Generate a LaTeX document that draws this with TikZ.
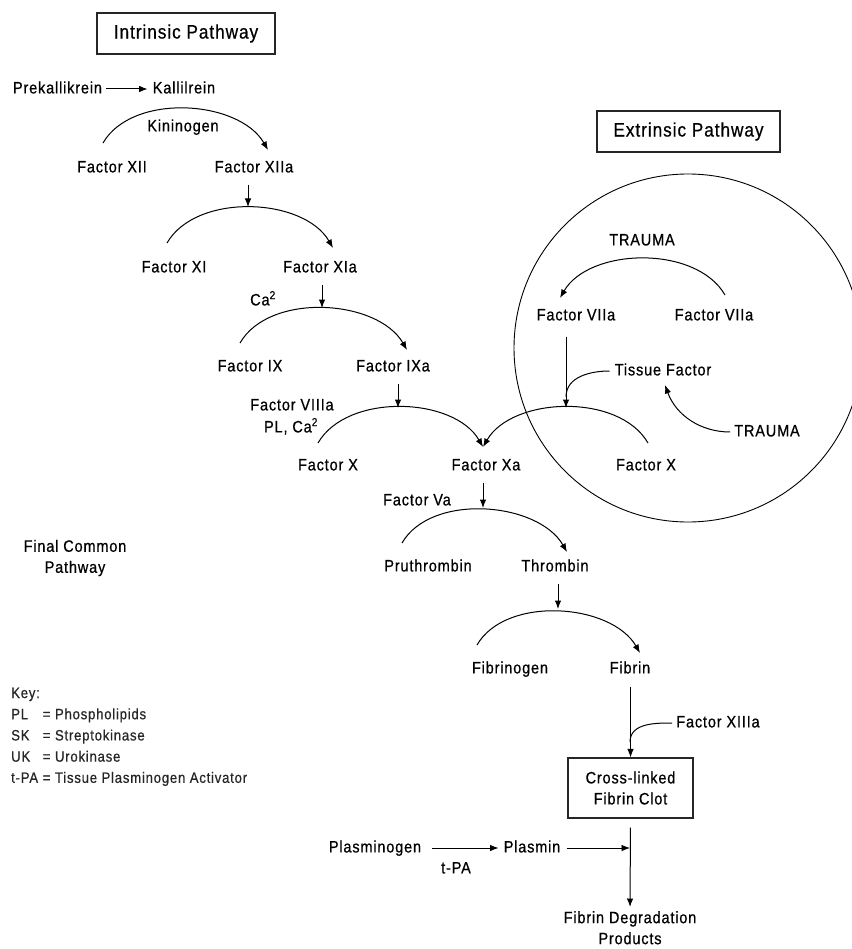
\documentclass[tikz,border=0pt]{standalone}
\usepackage{fontspec}
\setmainfont[LetterSpace=5,FakeStretch=0.88,FakeBold=0.6]{Liberation Sans}
\usetikzlibrary{arrows.meta,positioning}
\tikzset{
  lbl/.style={inner sep=1pt,text height=11.8pt,text depth=3pt,font=\fontsize{16.5}{19}\selectfont},
  twoline/.style={inner sep=1pt,align=center,font=\fontsize{16.5}{21}\selectfont},
  pathbox/.style={draw=black!85,line width=1.1pt,inner sep=0pt,minimum height=41,font=\fontsize{19.5}{22}\selectfont},
  link/.style={line width=1pt},
  react/.style={line width=1pt,-{Latex[length=8.5pt,width=6.5pt]}},
  feed/.style={react,shorten <=8pt},
  turn/.style={out=60,in=120,looseness=0.9},
}

\begin{document}
\begin{tikzpicture}[x=1pt,y=1pt]
\useasboundingbox (0,0) rectangle (851,-949);

% pathway headings
\node[pathbox,minimum width=178] (intr) at (186,-33.5) {Intrinsic Pathway};
\node[pathbox,minimum width=183] (extr) at (688.5,-131.5) {Extrinsic Pathway};

% intrinsic pathway
\node[lbl] (prek) at (57.5,-89) {Prekallikrein};
\node[lbl] (kall) at (184,-89) {Kallilrein};
\draw[react,shorten <=3pt,shorten >=4pt] (prek.east) -- (kall.west);
\node[lbl] (kin) at (183,-127) {Kininogen};
\node[lbl] (xii) at (112,-168) {Factor XII};
\node[lbl] (xiia) at (254,-168) {Factor XIIa};
\node[lbl] (xi) at (174,-268) {Factor XI};
\node[lbl] (xia) at (320,-268) {Factor XIa};
\node[lbl] (ca1) at (263,-301) {Ca\textsuperscript{2}};
\node[lbl] (ix) at (250,-367) {Factor IX};
\node[lbl] (ixa) at (393,-367) {Factor IXa};
\node[lbl] (viiia) at (292,-406) {Factor VIIIa};
\node[lbl] (plca) at (291,-428) {PL, Ca\textsuperscript{2}};
\node[lbl] (x1) at (328,-466) {Factor X};
\node[lbl] (xa) at (486,-466) {Factor Xa};

\coordinate (a1s) at (103,-143);  \coordinate (a1e) at (268,-150);
\coordinate (a2s) at (167,-243);  \coordinate (a2e) at (333,-248);  \coordinate (a2t) at (248,-207);
\coordinate (a3s) at (240,-343);  \coordinate (a3e) at (407,-350);  \coordinate (a3t) at (322,-308);
\coordinate (a4s) at (318,-443);  \coordinate (a4e) at (483,-447);  \coordinate (a4t) at (398,-408);
\draw[react,turn] (a1s) to (a1e);
\draw[react,turn] (a2s) to (a2e);
\draw[react,turn] (a3s) to (a3e);
\draw[react,turn] (a4s) to (a4e);
\draw[feed] (a2t |- xiia.south) -- (a2t);
\draw[feed] (a3t |- xia.south) -- (a3t);
\draw[feed] (a4t |- ixa.south) -- (a4t);

% extrinsic pathway
\draw[line width=0.9pt] (688,-348) circle[radius=174];
\node[lbl] (trauma1) at (642,-241) {TRAUMA};
\node[lbl] (viia1) at (576,-316) {Factor VIIa};
\node[lbl] (viia2) at (714,-316) {Factor VIIa};
\node[lbl] (tf) at (663,-371) {Tissue Factor};
\node[lbl] (trauma2) at (767,-432) {TRAUMA};
\node[lbl] (x2) at (646,-466) {Factor X};

\coordinate (a7s) at (725,-295);  \coordinate (a7e) at (560,-298);
\coordinate (a8s) at (648,-443);  \coordinate (a8t) at (566,-408);
\draw[react,out=120,in=60,looseness=0.9] (a7s) to (a7e);
\draw[react,out=120,in=60,looseness=0.9] (a8s) to (a4e);
\draw[react,shorten <=12pt] (a8t |- viia1.south) -- (a8t);
\coordinate (tfj) at (566,-397);
\draw[link,shorten <=4pt] (tf.west) to[out=180,in=90] (tfj);
\coordinate (tfp) at (665,-385);
\draw[react,shorten <=3pt] (trauma2.west) to[out=180,in=-70] (tfp);

% final common pathway
\node[twoline] (fcp) at (75,-558) {Final Common\\Pathway};
\node[lbl] (va) at (417,-501) {Factor Va};
\node[lbl] (pru) at (428,-567) {Pruthrombin};
\node[lbl] (thr) at (555,-567) {Thrombin};
\node[lbl] (fbg) at (510,-669) {Fibrinogen};
\node[lbl] (fib) at (630,-669) {Fibrin};

\coordinate (a5s) at (402,-543);  \coordinate (a5e) at (567,-552);  \coordinate (a5t) at (483,-508);
\coordinate (a6s) at (477,-645);  \coordinate (a6e) at (640,-653);  \coordinate (a6t) at (558,-609);
\draw[react,turn] (a5s) to (a5e);
\draw[react,turn] (a6s) to (a6e);
\draw[feed] (a5t |- xa.south) -- (a5t);
\draw[feed] (a6t |- thr.south) -- (a6t);

\node[draw=black!85,line width=1.1pt,minimum width=125,minimum height=60,twoline] (clot) at (630.5,-788) {Cross-linked\\Fibrin Clot};
\node[lbl] (xiiia) at (718,-723) {Factor XIIIa};
\draw[react,shorten <=9pt] (fib.south -| clot.north) -- (clot.north);
\coordinate (xj) at (630,-742);
\draw[link,shorten <=3pt] (xiiia.west) to[out=180,in=90] (xj);

% fibrinolysis
\node[lbl] (plg) at (375,-848) {Plasminogen};
\node[lbl] (pla) at (532,-848) {Plasmin};
\node[lbl] (tpa) at (456,-869) {t-PA};
\node[twoline,anchor=north] (deg) at (630,-910) {Fibrin Degradation\\Products};
\coordinate (hit) at (630,-848);
\draw[react,line width=0.8pt,shorten <=10pt,shorten >=4pt] (plg.east) -- (pla.west);
\draw[react,line width=0.8pt,shorten <=5pt] (pla.east) -- (hit);
\draw[react,shorten <=9pt,shorten >=3pt] (clot.south) -- (deg.north);

% key
\node[anchor=north west,inner sep=0pt,text=black!85,font=\fontsize{15}{21.2}\selectfont] (key) at (11,-683)
  {\begin{tabular}{@{}l@{\hspace{3pt}}l@{}}
   Key: & \\
   PL & = Phospholipids \\
   SK & = Streptokinase \\
   UK & = Urokinase \\
   t-PA & = Tissue Plasminogen Activator
   \end{tabular}};
\end{tikzpicture}
\end{document}
